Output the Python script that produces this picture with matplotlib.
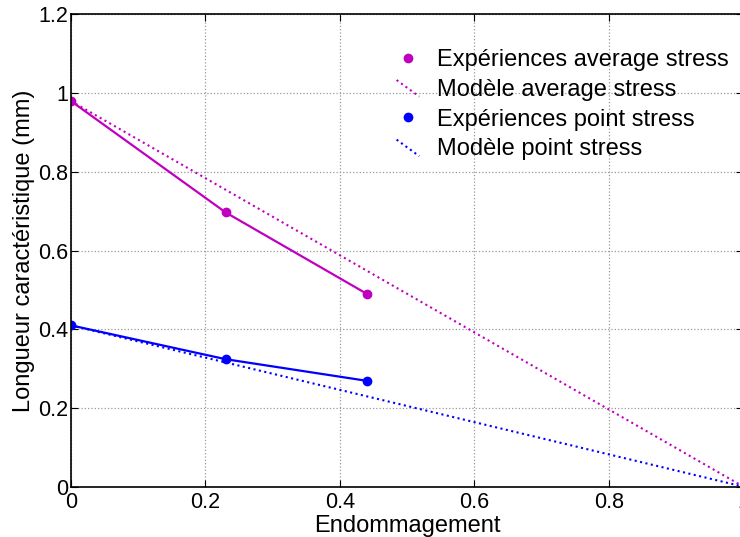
## Longueur caractéristique vs endommagement
import matplotlib
matplotlib.use('Agg')
import matplotlib.pyplot as plt
from matplotlib.lines import Line2D
from matplotlib.legend_handler import HandlerLine2D

# Données expérimentales
endo_exp = [0, 0.23, 0.44]
avg_exp = [0.98, 0.697, 0.49]
pt_exp = [0.41, 0.324, 0.269]

# Modèles (linéaires)
endo_mod = [0, 1]
avg_mod = [0.98, 0]
pt_mod = [0.41, 0]

magenta = '#c000c0'
blue = '#0000ff'


# Symbole de légende en diagonale (comme MATLAB)
class HandlerDiag(HandlerLine2D):
    def create_artists(self, legend, orig_handle, xdescent, ydescent,
                       width, height, fontsize, trans):
        line = Line2D([-xdescent + 0.1 * width, -xdescent + 0.9 * width],
                      [-ydescent + height * 0.95, -ydescent - height * 0.05])
        self.update_prop(line, orig_handle, legend)
        line.set_transform(trans)
        return [line]


plt.rcParams['font.family'] = ['Liberation Sans', 'DejaVu Sans']

fig = plt.figure(figsize=(7.40, 5.37), dpi=100)
ax = fig.add_axes([0.0959, 0.0937, 0.9088, 0.8793])

# Courbes
ax.plot(endo_exp, avg_exp, color=magenta, lw=1.6)
ax.plot(endo_exp, avg_exp, 'o', color=magenta, ms=6, label='Expériences average stress')
ax.plot(endo_mod, avg_mod, ':', color=magenta, lw=1.5, label='Modèle average stress')
ax.plot(endo_exp, pt_exp, color=blue, lw=1.6)
ax.plot(endo_exp, pt_exp, 'o', color=blue, ms=6, label='Expériences point stress')
ax.plot(endo_mod, pt_mod, ':', color=blue, lw=1.5, label='Modèle point stress')

# Mise en forme style MATLAB
ax.set_xlim(0, 1)
ax.set_ylim(0, 1.2)
ax.set_xticks([0, 0.2, 0.4, 0.6, 0.8, 1])
ax.set_xticklabels(['0', '0.2', '0.4', '0.6', '0.8', '1'])
ax.set_yticks([0, 0.2, 0.4, 0.6, 0.8, 1, 1.2])
ax.set_yticklabels(['0', '0.2', '0.4', '0.6', '0.8', '1', '1.2'])
ax.grid(True, linestyle=':', color='#999999', lw=0.9)
ax.tick_params(direction='in', top=True, right=True, labelsize=15.5, length=5)
ax.tick_params(axis='x', pad=4)
ax.tick_params(axis='y', pad=2)
for s in ax.spines.values():
    s.set_linewidth(1.2)

ax.set_xlabel('Endommagement', fontsize=17, labelpad=1)
ax.set_ylabel('Longueur caractéristique (mm)', fontsize=17, labelpad=2)

line_handles = [l for l in ax.get_lines() if not l.get_label().startswith('_')]
ax.legend(loc='upper left', bbox_to_anchor=(0.48, 0.927), frameon=False,
          fontsize=17, handlelength=1.2, handletextpad=0.64, labelspacing=0.33,
          borderpad=0, borderaxespad=0,
          handler_map={line_handles[1]: HandlerDiag(), line_handles[3]: HandlerDiag()})

fig.savefig('out.png', dpi=100)
